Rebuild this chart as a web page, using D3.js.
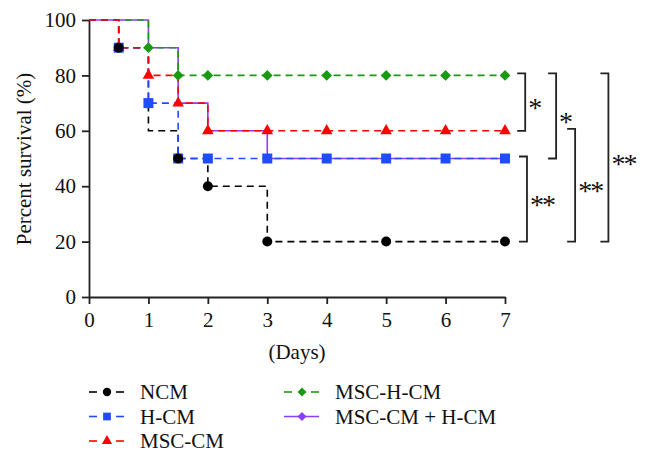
<!DOCTYPE html>
<html><head><meta charset="utf-8">
<script src="https://cdn.jsdelivr.net/npm/d3@7"></script>
<style>
html,body{margin:0;padding:0;background:#fff;}
svg text{font-family:"Liberation Serif","Times New Roman",serif;fill:#111;}
</style></head>
<body><svg id="c" width="648" height="476"></svg>
<script>
// ---- data ----
const seriesNames = ["NCM", "H-CM", "MSC-CM", "MSC-H-CM", "MSC-CM + H-CM"];
const seriesColors = ["#000000", "#1f4cff", "#ff0000", "#1a9a12", "#8a3cff"];
const seriesShapes = ["circle", "square", "triangle", "diamond", "diamond"];
const seriesDashed = [true, true, true, true, false];

const ncmDays = [0, 0.5, 1, 1.5, 2, 3, 7];
const ncmSurv = [100, 90, 60, 50, 40, 20, 20];
const ncmMarks = [0.5, 1.5, 2, 3, 5, 7];

const hcmDays = [0, 0.5, 1, 1.5, 7];
const hcmSurv = [100, 90, 70, 50, 50];
const hcmMarks = [0.5, 1, 1.5, 2, 3, 4, 5, 6, 7];

const msccmDays = [0, 0.5, 1, 1.5, 2, 7];
const msccmSurv = [100, 90, 80, 70, 60, 60];
const msccmMarks = [0.5, 1, 1.5, 2, 3, 4, 5, 6, 7];

const mschcmDays = [0, 1, 1.5, 7];
const mschcmSurv = [100, 90, 80, 80];
const mschcmMarks = [1, 1.5, 2, 3, 4, 5, 6, 7];

const comboDays = [0, 1, 1.5, 2, 3, 7];
const comboSurv = [100, 90, 70, 60, 50, 50];
const comboMarks = [];

const xTicks = [0, 1, 2, 3, 4, 5, 6, 7];
const yTicks = [0, 20, 40, 60, 80, 100];

// significance brackets (survival values they join, label)
const bracketFrom = [80, 80, 50, 60, 80];
const bracketTo = [60, 50, 20, 20, 20];
const bracketLabels = ["*", "*", "**", "**", "**"];
const bracketDay = [7.34, 7.86, 7.37, 8.18, 8.74];

// ---- chart ----
const svg = d3.select("#c");
const x = d3.scaleLinear().domain([0, 7]).range([89, 505]);
const y = d3.scaleLinear().domain([0, 100]).range([297, 20]);

const series = [
  {days: ncmDays, surv: ncmSurv, marks: ncmMarks},
  {days: hcmDays, surv: hcmSurv, marks: hcmMarks},
  {days: msccmDays, surv: msccmSurv, marks: msccmMarks},
  {days: mschcmDays, surv: mschcmSurv, marks: mschcmMarks},
  {days: comboDays, surv: comboSurv, marks: comboMarks}
].map((s, i) => Object.assign(s, {
  name: seriesNames[i], color: seriesColors[i], shape: seriesShapes[i], dashed: seriesDashed[i]
}));

function survAt(s, d) {
  let v = s.surv[0];
  for (let k = 0; k < s.days.length; k++) if (s.days[k] <= d) v = s.surv[k];
  return v;
}

const shapeGen = {
  circle: d3.symbol(d3.symbolCircle, 78),
  square: d3.symbol(d3.symbolSquare, 100),
  triangle: d3.symbol(d3.symbolTriangle, 58),
  diamond: d3.symbol(d3.symbolSquare, 58)
};
const legShape = {
  circle: d3.symbol(d3.symbolCircle, 55),
  square: d3.symbol(d3.symbolSquare, 60),
  triangle: d3.symbol(d3.symbolTriangle, 45),
  diamond: d3.symbol(d3.symbolSquare, 40)
};
const rot = s => s === "diamond" ? " rotate(45)" : "";

// axes
const xAxis = d3.axisBottom(x).tickValues(xTicks).tickSize(7).tickSizeOuter(0).tickPadding(8).tickFormat(d3.format("d"));
const yAxis = d3.axisLeft(y).tickValues(yTicks).tickSize(7).tickSizeOuter(0).tickPadding(6);
const gx = svg.append("g").attr("transform", `translate(0,${y(0)})`).call(xAxis);
const gy = svg.append("g").attr("transform", `translate(${x(0)},0)`).call(yAxis);
[gx, gy].forEach(g => {
  g.select(".domain").attr("stroke", "#222").attr("stroke-width", 1.8);
  g.selectAll(".tick line").attr("stroke", "#222").attr("stroke-width", 1.8);
  g.selectAll(".tick text").attr("font-size", 21).attr("font-family", "Liberation Serif, serif").attr("fill", "#111");
});

svg.append("text").attr("transform", "translate(31,159) rotate(-90)")
  .attr("text-anchor", "middle").attr("font-size", 21).text("Percent survival (%)");
svg.append("text").attr("x", x(3.5)).attr("y", 359)
  .attr("text-anchor", "middle").attr("font-size", 21).text("(Days)");

// lines
const line = d3.line().x(d => x(d[0])).y(d => y(d[1])).curve(d3.curveStepAfter);
const lineOrder = [4, 0, 3, 1, 2];
lineOrder.forEach(i => {
  const s = series[i];
  svg.append("path").datum(s.days.map((d, k) => [d, s.surv[k]]))
    .attr("d", line).attr("fill", "none").attr("stroke", s.color)
    .attr("stroke-width", 1.6)
    .attr("stroke-dasharray", s.dashed ? "7,5" : null);
});

// markers
const markOrder = [4, 3, 2, 1, 0];
markOrder.forEach(i => {
  const s = series[i];
  svg.selectAll(null).data(s.marks).enter().append("path")
    .attr("d", shapeGen[s.shape])
    .attr("transform", d => `translate(${x(d)},${y(survAt(s, d))})${rot(s.shape)}`)
    .attr("fill", s.color);
});

// brackets
bracketFrom.forEach((v, i) => {
  const bx = x(bracketDay[i]);
  const y1 = y(v) - 2, y2 = y(bracketTo[i]);
  svg.append("path")
    .attr("d", `M${bx - 8},${y1}H${bx}V${y2}H${bx - 8}`)
    .attr("fill", "none").attr("stroke", "#222").attr("stroke-width", 1.8);
  svg.append("text").attr("x", bx + 3).attr("y", (y1 + y2) / 2 + 15)
    .attr("font-size", 28).attr("fill", "#444").attr("letter-spacing", -2).text(bracketLabels[i]);
});

// legend
const legCols = [[0, 1, 2], [3, 4]];
const legX = [89, 284];
const legY0 = 392, legDy = 24.5;
legCols.forEach((col, c) => {
  col.forEach((i, r) => {
    const s = series[i];
    const lx = legX[c], ly = legY0 + r * legDy;
    const g = svg.append("g");
    if (s.dashed) {
      g.append("line").attr("x1", lx).attr("x2", lx + 8).attr("y1", ly).attr("y2", ly)
        .attr("stroke", s.color).attr("stroke-width", 1.6);
      g.append("line").attr("x1", lx + 27).attr("x2", lx + 35).attr("y1", ly).attr("y2", ly)
        .attr("stroke", s.color).attr("stroke-width", 1.6);
    } else {
      g.append("line").attr("x1", lx).attr("x2", lx + 35).attr("y1", ly).attr("y2", ly)
        .attr("stroke", s.color).attr("stroke-width", 1.6);
    }
    g.append("path").attr("d", legShape[s.shape])
      .attr("transform", `translate(${lx + 18},${ly})${rot(s.shape)}`).attr("fill", s.color);
    g.append("text").attr("x", lx + 51).attr("y", ly + 7).attr("font-size", 21).text(s.name);
  });
});
</script></body></html>
